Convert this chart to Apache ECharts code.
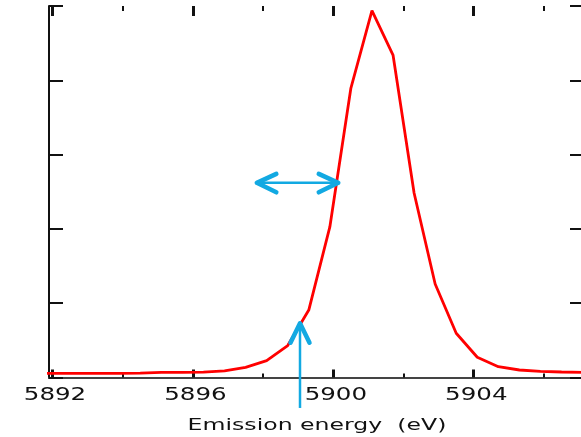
<!DOCTYPE html>
<html>
<head>
<meta charset="utf-8">
<script src="https://cdn.jsdelivr.net/npm/echarts@6/dist/echarts.min.js"></script>
<style>
html,body{margin:0;padding:0;background:#fff;overflow:hidden;width:581px;height:437px;}
#chart{width:620px;height:437px;}
</style>
</head>
<body>
<div id="chart"></div>
<script>
// ---- data ----
const energy = [5891.5, 5892.1, 5892.7, 5893.3, 5893.9, 5894.5, 5895.1, 5895.7, 5896.3, 5896.9,
  5897.5, 5898.1, 5898.7, 5899.3, 5899.9, 5900.5, 5901.1, 5901.7, 5902.3, 5902.9,
  5903.5, 5904.1, 5904.7, 5905.3, 5905.9, 5906.5, 5907.1];
const intensity = [0.055, 0.055, 0.055, 0.055, 0.056, 0.058, 0.068, 0.070, 0.072, 0.088,
  0.137, 0.226, 0.430, 0.908, 2.026, 3.896, 4.937, 4.340, 2.483, 1.258,
  0.595, 0.272, 0.145, 0.101, 0.083, 0.074, 0.068];
const xTickLabels = ['5892', '5896', '5900', '5904'];
const xAxisName = 'Emission energy  (eV)';
// annotation arrows (data coordinates)
const vArrow = {x: 5899.05, yTip: 0.73, yEnd: -0.41};
const hArrow = {y: 2.62, xLeft: 5897.82, xRight: 5900.14};

const chart = echarts.init(document.getElementById('chart'));
const lineBlack = '#111';
const cyan = '#12a9e2';

const option = {
  animation: false,
  backgroundColor: '#fff',
  grid: [
    {left: 49, right: 36, top: 6, bottom: 59.5},
    {left: 52.5, right: 5.9, top: 6, bottom: 59.5}
  ],
  xAxis: [
    {gridIndex: 0, type: 'value', min: 5891.9, max: 5907.14, position: 'bottom',
     axisLine: {show: true, lineStyle: {color: lineBlack, width: 2}},
     axisTick: {show: false}, axisLabel: {show: false}, splitLine: {show: false}},
    {gridIndex: 0, type: 'value', min: 5891.9, max: 5907.14, position: 'top',
     axisLine: {show: true, lineStyle: {color: '#555', width: 1.5}},
     axisTick: {show: false}, axisLabel: {show: false}, splitLine: {show: false}},
    {gridIndex: 1, type: 'value', min: 5892, max: 5908, interval: 4, position: 'bottom',
     axisLine: {show: false},
     axisTick: {show: true, inside: true, length: 8, lineStyle: {color: lineBlack, width: 3}},
     minorTick: {show: true, splitNumber: 2, length: 4, lineStyle: {color: lineBlack, width: 2}},
     axisLabel: {show: false}, splitLine: {show: false}},
    {gridIndex: 1, type: 'value', min: 5892, max: 5908, interval: 4, position: 'top',
     axisLine: {show: false},
     axisTick: {show: true, inside: true, length: 10, lineStyle: {color: lineBlack, width: 3}},
     minorTick: {show: true, splitNumber: 2, length: 5, lineStyle: {color: lineBlack, width: 2}},
     axisLabel: {show: false}, splitLine: {show: false}}
  ],
  yAxis: [
    {gridIndex: 0, type: 'value', min: 0, max: 5, interval: 1, position: 'left',
     axisLine: {show: true, lineStyle: {color: lineBlack, width: 2}},
     axisTick: {show: true, inside: true, length: 14, lineStyle: {color: lineBlack, width: 2}},
     axisLabel: {show: false}, splitLine: {show: false}},
    {gridIndex: 0, type: 'value', min: 0, max: 5, interval: 1, position: 'right',
     axisLine: {show: true, lineStyle: {color: lineBlack, width: 2}},
     axisTick: {show: true, inside: true, length: 14, lineStyle: {color: lineBlack, width: 2}},
     axisLabel: {show: false}, splitLine: {show: false}},
    {gridIndex: 1, type: 'value', min: 0, max: 5, show: false}
  ],
  series: [{
    type: 'line',
    xAxisIndex: 0, yAxisIndex: 0,
    data: energy.map((e, i) => [e, intensity[i]]),
    showSymbol: false,
    lineStyle: {color: '#ff0000', width: 2.8},
    z: 3
  }]
};
chart.setOption(option);

function px(x, y) { return chart.convertToPixel({xAxisIndex: 0, yAxisIndex: 0}, [x, y]); }

const graphics = [];
// tick labels
const axisY = px(5892, 0)[1];
xTickLabels.forEach(t => {
  const p = px(parseFloat(t), 0);
  graphics.push({type: 'text', x: p[0] + 2.5, y: axisY + 18, scaleX: 1.38, z: 10,
    style: {text: t, fill: '#111', font: '17.8px "DejaVu Sans"',
      align: 'center', verticalAlign: 'middle', textAlign: 'center', textVerticalAlign: 'middle'}});
});
// axis name
graphics.push({type: 'text', x: 317, y: axisY + 48.5, scaleX: 1.43, z: 10,
  style: {text: xAxisName, fill: '#111', font: '16.5px "DejaVu Sans"',
    align: 'center', verticalAlign: 'middle', textAlign: 'center', textVerticalAlign: 'middle'}});

// vertical arrow
const vt = px(vArrow.x, vArrow.yTip), vb = px(vArrow.x, vArrow.yEnd);
graphics.push({type: 'line', z: 20, shape: {x1: vt[0], y1: vt[1] + 2, x2: vb[0], y2: vb[1]},
  style: {stroke: cyan, lineWidth: 2.5}});
graphics.push({type: 'polyline', z: 20,
  shape: {points: [[vt[0] - 9.5, vt[1] + 19.5], [vt[0], vt[1]], [vt[0] + 9.5, vt[1] + 19.5]]},
  style: {stroke: cyan, lineWidth: 4.5, lineCap: 'round', lineJoin: 'round', fill: null}});

// horizontal double arrow
const hl = px(hArrow.xLeft, hArrow.y), hr = px(hArrow.xRight, hArrow.y);
graphics.push({type: 'line', z: 20, shape: {x1: hl[0] + 2, y1: hl[1], x2: hr[0] - 2, y2: hr[1]},
  style: {stroke: cyan, lineWidth: 2.5}});
graphics.push({type: 'polyline', z: 20,
  shape: {points: [[hl[0] + 19.5, hl[1] - 9], [hl[0], hl[1]], [hl[0] + 19.5, hl[1] + 9.5]]},
  style: {stroke: cyan, lineWidth: 4.5, lineCap: 'round', lineJoin: 'round', fill: null}});
graphics.push({type: 'polyline', z: 20,
  shape: {points: [[hr[0] - 19.5, hr[1] - 9], [hr[0], hr[1]], [hr[0] - 19.5, hr[1] + 9.5]]},
  style: {stroke: cyan, lineWidth: 4.5, lineCap: 'round', lineJoin: 'round', fill: null}});

chart.setOption({graphic: graphics});
</script>
</body>
</html>
